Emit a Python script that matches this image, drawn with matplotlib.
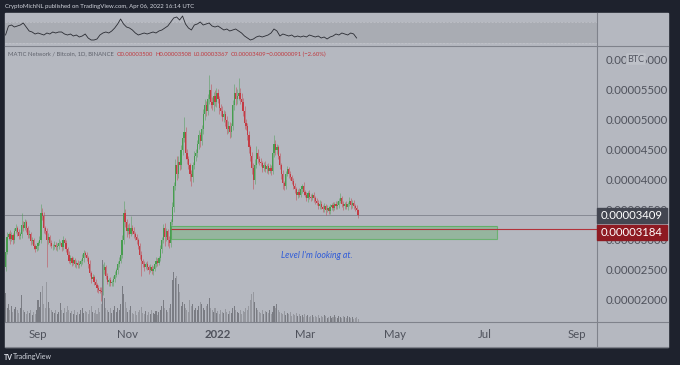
import numpy as np
import pandas as pd
import matplotlib
matplotlib.use('Agg')
import matplotlib.pyplot as plt
import matplotlib.dates as mdates
from matplotlib.patches import Rectangle
from matplotlib.lines import Line2D

plt.rcParams['font.family'] = ['Lato', 'DejaVu Sans']

# ---- data (prices in satoshi, 1e-8 BTC) ----
dates = pd.date_range('2021-08-10', periods=240, freq='D')
first_open = 2550
closes = [
    2800, 3050, 3100, 3020, 3080, 3000, 3150, 3200, 3130, 3060,
    3100, 3250, 3200, 3300, 3200, 3080, 3100, 2980, 3000, 2900,
    2850, 2900, 2950, 3000, 3450, 3400, 3200, 3150, 3000, 3050,
    2950, 2900, 2900, 2920, 2880, 2900, 2950, 2950, 2880, 3000,
    2950, 2850, 2750, 2650, 2700, 2620, 2660, 2600, 2620, 2580,
    2600, 2650, 2700, 2780, 2750, 2700, 2600, 2450, 2350, 2380,
    2300, 2250, 2200, 2170, 2150, 2130, 2500, 2550, 2400, 2300,
    2330, 2280, 2300, 2350, 2420, 2500, 2600, 2650, 2750, 3000,
    3450, 3300, 3150, 3200, 3100, 3200, 3150, 3100, 3050, 3000,
    2900, 2750, 2650, 2600, 2550, 2600, 2550, 2500, 2550, 2480,
    2520, 2600, 2650, 2620, 2700, 2850, 3000, 3200, 3050, 3150,
    3000, 2950, 3300, 3550, 3900, 4250, 4100, 4300, 4250, 4500,
    4700, 4800, 4450, 4350, 4250, 4100, 4050, 4250, 4400, 4450,
    4600, 4750, 4650, 4850, 5100, 5250, 5150, 5350, 5500, 5300,
    5250, 5400, 5300, 5450, 5350, 5200, 5150, 5050, 5100, 5000,
    4850, 4900, 4800, 4900, 5250, 5450, 5350, 5400, 5450, 5350,
    5300, 5150, 4950, 4900, 4750, 4550, 4400, 4200, 4000, 4250,
    4450, 4350, 4300, 4280, 4200, 4250, 4180, 4230, 4150, 4200,
    4150, 4450, 4600, 4500, 4550, 4400, 4250, 4100, 3950, 3900,
    4100, 4180, 4100, 4050, 3980, 3900, 3850, 3750, 3800, 3750,
    3850, 3900, 3800, 3750, 3700, 3780, 3720, 3700, 3750, 3700,
    3650, 3620, 3570, 3600, 3550, 3520, 3560, 3500, 3530, 3480,
    3550, 3580, 3540, 3600, 3560, 3590, 3650, 3700, 3600, 3560,
    3600, 3550, 3600, 3650, 3580, 3620, 3560, 3530, 3500, 3409,
]
wick_up = [
    60, 80, 40, 60, 50, 40, 50, 60, 40, 50,
    40, 200, 60, 50, 40, 40, 60, 40, 50, 40,
    40, 50, 40, 60, 150, 80, 60, 40, 50, 60,
    40, 50, 30, 60, 40, 50, 60, 40, 50, 60,
    40, 50, 40, 60, 50, 40, 50, 40, 50, 40,
    50, 40, 60, 50, 40, 50, 40, 60, 40, 50,
    40, 50, 40, 50, 40, 60, 100, 80, 40, 50,
    40, 50, 40, 50, 60, 40, 50, 60, 50, 80,
    200, 60, 50, 60, 80, 200, 50, 60, 40, 50,
    40, 50, 60, 40, 50, 40, 50, 40, 50, 40,
    50, 40, 60, 50, 40, 60, 50, 60, 80, 50,
    40, 60, 50, 80, 60, 100, 150, 100, 50, 80,
    60, 250, 80, 60, 50, 40, 60, 50, 80, 60,
    60, 80, 50, 60, 80, 100, 60, 80, 250, 100,
    80, 60, 100, 80, 60, 50, 60, 80, 60, 50,
    60, 80, 60, 50, 80, 150, 100, 120, 250, 80,
    100, 60, 80, 60, 50, 60, 40, 60, 80, 100,
    120, 60, 50, 60, 40, 50, 60, 40, 50, 60,
    50, 80, 150, 60, 50, 40, 50, 40, 60, 40,
    50, 60, 40, 50, 40, 60, 50, 40, 50, 60,
    50, 40, 60, 40, 50, 40, 60, 50, 40, 50,
    40, 50, 40, 60, 50, 40, 50, 40, 50, 40,
    50, 40, 50, 40, 50, 60, 50, 80, 40, 50,
    40, 50, 40, 60, 50, 40, 50, 40, 50, 8,
]
wick_dn = [
    60, 40, 50, 80, 40, 60, 50, 40, 60, 50,
    40, 60, 50, 40, 60, 50, 40, 60, 40, 50,
    50, 40, 60, 40, 50, 60, 80, 50, 450, 60,
    50, 40, 60, 50, 40, 60, 50, 40, 60, 50,
    40, 50, 60, 40, 50, 60, 40, 50, 60, 40,
    50, 40, 50, 60, 40, 50, 60, 50, 60, 40,
    50, 40, 60, 50, 40, 150, 50, 60, 50, 40,
    60, 50, 40, 60, 50, 40, 60, 50, 40, 50,
    60, 80, 100, 50, 60, 40, 50, 60, 50, 60,
    50, 60, 250, 50, 60, 40, 50, 60, 40, 50,
    60, 40, 50, 60, 40, 50, 60, 50, 150, 60,
    100, 80, 60, 50, 80, 60, 100, 60, 80, 60,
    80, 60, 100, 80, 60, 120, 150, 80, 60, 80,
    60, 80, 100, 60, 80, 100, 80, 60, 80, 100,
    80, 100, 60, 80, 60, 100, 80, 60, 80, 100,
    80, 60, 100, 80, 60, 80, 100, 80, 60, 80,
    60, 80, 100, 60, 80, 100, 80, 100, 150, 60,
    50, 60, 50, 40, 60, 50, 40, 60, 50, 40,
    60, 50, 60, 80, 60, 50, 60, 80, 100, 60,
    50, 40, 60, 50, 40, 50, 60, 80, 50, 40,
    40, 60, 50, 40, 50, 60, 40, 50, 40, 60,
    50, 40, 60, 50, 40, 60, 50, 80, 40, 50,
    40, 50, 60, 40, 50, 40, 60, 40, 50, 60,
    50, 40, 50, 40, 60, 50, 40, 50, 40, 42,
]
volume = [
    29, 14, 18, 12, 16, 10, 13, 15, 12, 9,
    14, 27, 12, 10, 8, 11, 9, 12, 7, 10,
    8, 12, 22, 15, 30, 36, 18, 14, 40, 20,
    14, 12, 10, 9, 12, 8, 10, 19, 12, 9,
    14, 10, 16, 12, 9, 11, 8, 12, 7, 10,
    8, 12, 14, 9, 11, 10, 8, 12, 16, 10,
    9, 12, 8, 14, 10, 18, 62, 24, 14, 12,
    10, 14, 9, 12, 16, 10, 14, 12, 18, 36,
    28, 20, 14, 10, 12, 16, 9, 8, 11, 7,
    10, 12, 15, 9, 8, 11, 7, 10, 8, 12,
    9, 8, 11, 7, 10, 12, 16, 22, 14, 12,
    10, 14, 18, 42, 50, 44, 46, 38, 30, 16,
    20, 18, 14, 12, 10, 22, 16, 18, 12, 14,
    12, 16, 20, 18, 14, 12, 16, 18, 24, 14,
    12, 10, 14, 9, 11, 8, 12, 10, 9, 13,
    10, 8, 11, 9, 14, 16, 12, 10, 9, 12,
    8, 11, 10, 14, 12, 16, 22, 28, 30, 20,
    14, 12, 10, 9, 12, 8, 11, 10, 9, 12,
    8, 10, 16, 14, 18, 12, 10, 9, 8, 11,
    7, 9, 8, 10, 6, 8, 7, 9, 6, 8,
    6, 7, 5, 8, 6, 7, 5, 6, 7, 5,
    6, 5, 7, 4, 6, 5, 7, 6, 4, 5,
    6, 4, 5, 7, 5, 4, 6, 5, 4, 6,
    5, 4, 6, 5, 4, 5, 3, 4, 5, 3,
]
# upper pane indicator, sampled every 2 days
ind_dates = pd.date_range('2021-08-10', periods=120, freq='2D')
indicator = [
    11, 20, 21, 19, 20, 21, 23, 19, 15, 14,
    12, 13, 12, 11, 13, 12, 14, 13, 14, 14,
    12, 11, 12, 10, 11, 9, 10, 12, 8, 6,
    6, 7, 11, 13, 14, 13, 15, 18, 22, 27,
    22, 19, 18, 16, 13, 11, 12, 13, 12, 13,
    14, 13, 15, 16, 18, 20, 24, 28, 29, 26,
    30, 22, 18, 16, 21, 22, 24, 21, 22, 23,
    20, 19, 20, 18, 16, 17, 15, 16, 17, 15,
    13, 10, 8, 6, 7, 9, 10, 9, 10, 11,
    13, 17, 15, 10, 12, 11, 10, 11, 9, 10,
    9, 10, 9, 11, 10, 9, 10, 8, 9, 7,
    9, 10, 12, 11, 13, 12, 11, 13, 12, 8,
]
last_price = 3409
level_price = 3184
zone_lo, zone_hi = 3020, 3230
zone_start, zone_end = '2021-11-30', '2022-07-09'
note_date, note_price = '2022-03-09', 2735
month_ticks = ['2021-09-01', '2021-11-01', '2022-01-01', '2022-03-01',
               '2022-05-01', '2022-07-01', '2022-09-01']
month_labels = ['Sep', 'Nov', '2022', 'Mar', 'May', 'Jul', 'Sep']
price_ticks = [2000, 2500, 3000, 3500, 4000, 4500, 5000, 5500, 6000]

# ---- colours ----
DARK = '#1e222d'
BG = '#b5b8c0'
PANE = '#a9acb3'
SEP = '#7f828b'
UP = '#479d4f'
DN = '#c43b44'
TXT = '#4f525c'

W, H = 680, 365
def fx(px): return px / W
def fy(py): return 1 - py / H

fig = plt.figure(figsize=(6.8, 3.65), dpi=100, facecolor=DARK)
fig.patches.append(Rectangle((fx(5), fy(347)), fx(663), 334 / H,
                             transform=fig.transFigure, color=BG, zorder=-5))

sep1 = mdates.date2num(pd.Timestamp('2021-09-01'))
xlim = (sep1 - 33 / 1.475, sep1 + 559 / 1.475)
# pixel 46 -> 6233 sat, pixel 322 -> 1633 sat
ylim = (1633e-8, 6233e-8)

# main price pane
ax = fig.add_axes([fx(5), fy(322), fx(592), 276 / H])
ax.set_facecolor('none')
for s in ax.spines.values():
    s.set_visible(False)
ax.set_xlim(*xlim)
ax.set_ylim(*ylim)

x = mdates.date2num(dates)
c = np.array(closes) * 1e-8
o = np.concatenate([[first_open], closes[:-1]]) * 1e-8
hi = np.maximum(o, c) + np.array(wick_up) * 1e-8
lo = np.minimum(o, c) - np.array(wick_dn) * 1e-8
col = np.where(c >= o, UP, DN)

# volume overlay
vax = fig.add_axes([fx(5), fy(322), fx(592), 276 / H], sharex=ax)
vax.set_facecolor('none')
vax.axis('off')
vax.set_ylim(0, 276)
vcol = np.where(c >= o, '#7a7c83', '#96989f')
vax.bar(x, volume, width=0.7, color=vcol, linewidth=0)
vax.set_xlim(*xlim)

ax.vlines(x, lo, hi, colors=col, linewidth=0.6, alpha=0.55, zorder=3)
ax.bar(x, np.abs(c - o) + 1e-8, bottom=np.minimum(o, c), width=0.8,
       color=col, linewidth=0, zorder=4)

# last price line
ax.axhline(last_price * 1e-8, color='#868993', linewidth=0.7, zorder=2)
# zone and level
z0 = mdates.date2num(pd.Timestamp(zone_start))
z1 = mdates.date2num(pd.Timestamp(zone_end))
ax.add_patch(Rectangle((z0, zone_lo * 1e-8), z1 - z0, (zone_hi - zone_lo) * 1e-8,
                       facecolor='#4caf50', alpha=0.3, edgecolor='none', zorder=2))
ax.add_patch(Rectangle((z0, zone_lo * 1e-8), z1 - z0, (zone_hi - zone_lo) * 1e-8,
                       facecolor='none', edgecolor='#4caf50', alpha=0.7,
                       linewidth=0.8, zorder=2))
ax.hlines(level_price * 1e-8, z0, xlim[1], color='#b3323a', linewidth=0.8, zorder=3)
ax.text(mdates.date2num(pd.Timestamp(note_date)), note_price * 1e-8,
        "Level I'm looking at.", color='#2f5bd8',
        fontsize=6.3, style='italic', ha='center', va='center')

ax.yaxis.tick_right()
ax.set_yticks([p * 1e-8 for p in price_ticks])
ax.set_yticklabels(['%.8f' % (p * 1e-8) for p in price_ticks])
ax.tick_params(axis='y', length=0, pad=6, labelsize=8.2, labelcolor=TXT)
ax.set_xticks([mdates.date2num(pd.Timestamp(d)) for d in month_ticks])
ax.set_xticklabels(month_labels)
ax.tick_params(axis='x', length=0, pad=5, labelsize=8.2, labelcolor=TXT)
ax.get_xticklabels()[2].set_fontweight('bold')

# price badges
def py(p):
    return 60 + (6000 - p) / 100 * 6
for price, fc, off in [(last_price, '#434651', 0), (level_price, '#8e1a22', 3.5)]:
    yc = py(price) + off
    fig.patches.append(Rectangle((fx(597), fy(yc + 7.6)), fx(70), 15.2 / H,
                                 transform=fig.transFigure, color=fc, zorder=5))
    fig.text(fx(632), fy(yc), '%.8f' % (price * 1e-8), color='white', fontsize=8.2,
             ha='center', va='center', zorder=6)

# BTC badge
fig.text(fx(636), fy(59), 'BTC', color='#50535e', fontsize=6.5, ha='center', va='center',
         zorder=6, bbox=dict(boxstyle='round,pad=0.15', fc='#bec1c8', ec='none'))

# indicator pane
iax = fig.add_axes([fx(5), fy(46), fx(592), 33 / H], sharex=ax)
iax.set_facecolor('none')
iax.axis('off')
iax.set_ylim(0, 33)
iax.axhspan(3, 24, color=PANE, zorder=0, linewidth=0)
iax.axhline(24, color='#c2c4ca', linewidth=0.5, linestyle=(0, (3, 2)))
iax.axhline(3, color='#c2c4ca', linewidth=0.5, linestyle=(0, (3, 2)))
iax.plot(mdates.date2num(ind_dates), indicator, color='#2a2c33', linewidth=0.6)
iax.set_xlim(*xlim)

# separators
for (xa, ya, xb, yb) in [(5, 46, 668, 46), (597, 13, 597, 347), (5, 322, 668, 322),
                         (5, 347, 668, 347)]:
    fig.add_artist(Line2D([fx(xa), fx(xb)], [fy(ya), fy(yb)], color=SEP,
                          linewidth=0.8, transform=fig.transFigure))

# header / footer
fig.text(fx(5), fy(6.5), 'CryptoMichNL published on TradingView.com, Apr 06, 2022 16:14 UTC',
         color='#d1d4dc', fontsize=4.3, va='center', ha='left')
fig.text(fx(8), fy(54), 'MATIC Network / Bitcoin, 1D, BINANCE', color='#5d606a',
         fontsize=4.2, va='center')
for xp, s in [(117, 'O0.00003500'), (155, 'H0.00003508'), (194, 'L0.00003367'),
              (231, 'C0.00003409'), (266, '\u22120.00000091 (\u22122.60%)')]:
    fig.text(fx(xp), fy(54), s, color='#c0393f', fontsize=4.2, va='center')
fig.text(fx(4), fy(357), 'TV', color='#e0e3eb', fontsize=5, fontweight='bold', va='center')
fig.text(fx(13), fy(357), 'TradingView', color='#d1d4dc', fontsize=5, va='center')

fig.savefig('out.png', dpi=100, facecolor=DARK)
